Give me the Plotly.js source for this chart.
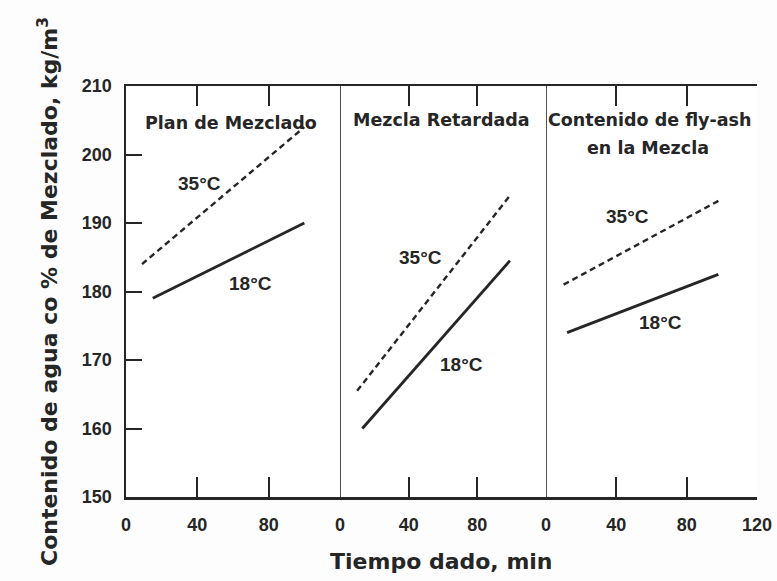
<!DOCTYPE html>
<html>
<head>
<meta charset="utf-8">
<script src="https://cdn.plot.ly/plotly-3.0.1.min.js"></script>
<style>
  html, body { margin: 0; padding: 0; background: #ffffff; }
  #chart { width: 777px; height: 581px; }
</style>
</head>
<body>
<div id="chart"></div>
<script>
// Water content vs. elapsed time, three panels sharing one y scale
const panelTitles = ["Plan de Mezclado", "Mezcla Retardada", "Contenido de fly-ash", "en la Mezcla"];
const tempLabels = ["35°C", "18°C"];

// Panel 1: Plan de Mezclado
const mixT35 = [9, 100];
const mixW35 = [184, 204];
const mixT18 = [15, 100];
const mixW18 = [179, 190];

// Panel 2: Mezcla Retardada
const retT35 = [10, 99];
const retW35 = [165.5, 194];
const retT18 = [13, 99];
const retW18 = [160, 184.5];

// Panel 3: Contenido de fly-ash en la Mezcla
const ashT35 = [10, 100];
const ashW35 = [181, 193.5];
const ashT18 = [12, 98];
const ashW18 = [174, 182.5];

const yTicks = [150, 160, 170, 180, 190, 200, 210];
const yInnerTicks = [160, 170, 180, 190, 200];
const xTicks = [0, 40, 80];
const xTicksLast = [0, 40, 80, 120];

const ink = "#262626";
const tickFont = { family: "Liberation Sans, Arial, sans-serif", size: 18, color: ink, weight: "bold" };
const labelFont = { family: "DejaVu Sans, sans-serif", size: 17.5, color: ink, weight: "bold" };
const tempFont = { family: "Liberation Sans, Arial, sans-serif", size: 19, color: ink, weight: "bold" };

function line(x, y, xa, dashed) {
  return {
    x: x, y: y, xaxis: xa, yaxis: "y",
    type: "scatter", mode: "lines", showlegend: false, hoverinfo: "skip",
    line: { color: ink, width: dashed ? 2.4 : 2.8, dash: dashed ? "6px,4px" : "solid" }
  };
}

const traces = [
  line(mixT35, mixW35, "x", true),
  line(mixT18, mixW18, "x", false),
  line(retT35, retW35, "x2", true),
  line(retT18, retW18, "x2", false),
  line(ashT35, ashW35, "x3", true),
  line(ashT18, ashW18, "x3", false)
];

function xAxis(domain, vals) {
  return {
    domain: domain, range: [0, 120], anchor: "y",
    tickvals: vals, ticktext: vals.map(String),
    ticks: "inside", ticklen: 20, tickwidth: 2, tickcolor: ink,
    showline: true, linecolor: ink, linewidth: 2.5, mirror: "ticks",
    showgrid: false, zeroline: false,
    tickfont: tickFont, ticklabelstandoff: 10
  };
}

const d1 = 214 / 631, d2 = 420 / 631;

function note(xref, x, y, text, font) {
  return { xref: xref, yref: "y", x: x, y: y, text: text, showarrow: false, font: font, xanchor: "center", yanchor: "middle" };
}

const annotations = [
  note("x", 59, 204.6, panelTitles[0], labelFont),
  note("x2", 59.4, 205, panelTitles[1], labelFont),
  note("x3", 59, 205.1, panelTitles[2], labelFont),
  note("x3", 58, 200.9, panelTitles[3], labelFont),
  note("x", 41, 195.8, tempLabels[0], tempFont),
  note("x", 70, 181.2, tempLabels[1], tempFont),
  note("x2", 46.6, 184.9, tempLabels[0], tempFont),
  note("x2", 71, 169.4, tempLabels[1], tempFont),
  note("x3", 46.6, 191, tempLabels[0], tempFont),
  note("x3", 65, 175.5, tempLabels[1], tempFont)
];

const divider = (xref) => ({
  type: "line", xref: xref, yref: "paper", x0: 0, x1: 0, y0: 0, y1: 1,
  line: { color: ink, width: 1.6 }
});

const layout = {
  width: 777, height: 581,
  margin: { l: 126, r: 20, t: 86, b: 84 },
  paper_bgcolor: "#fdfdfd", plot_bgcolor: "#ffffff",
  showlegend: false,
  xaxis: xAxis([0, d1], xTicks),
  xaxis2: xAxis([d1, d2], xTicks),
  xaxis3: xAxis([d2, 1], xTicksLast),
  yaxis: {
    range: [150, 210], tickvals: yTicks, anchor: "x",
    ticks: "inside", ticklen: 16, tickwidth: 2, tickcolor: ink,
    showline: true, linecolor: ink, linewidth: 2.5,
    showgrid: false, zeroline: false,
    tickfont: tickFont, ticklabelstandoff: 8,
    title: {
      text: "Contenido de agua co % de Mezclado, kg/m<sup>3</sup>",
      font: { family: "DejaVu Sans, sans-serif", size: 22, color: ink, weight: "bold" },
      standoff: 18
    }
  },
  yaxis2: {
    range: [150, 210], tickvals: yInnerTicks, overlaying: "y", anchor: "x3", side: "right",
    ticks: "inside", ticklen: 16, tickwidth: 2, tickcolor: ink,
    showline: true, linecolor: ink, linewidth: 2.5,
    showticklabels: false, showgrid: false, zeroline: false
  },
  annotations: [
    ...annotations,
    {
      xref: "paper", yref: "paper", x: 0.5, y: 0, yshift: -64,
      text: "Tiempo dado, min", showarrow: false, xanchor: "center", yanchor: "middle",
      font: { family: "DejaVu Sans, sans-serif", size: 22, color: ink, weight: "bold" }
    }
  ],
  shapes: [divider("x2"), divider("x3")]
};

Plotly.newPlot("chart", traces, layout, { displayModeBar: false, staticPlot: true });
</script>
</body>
</html>
